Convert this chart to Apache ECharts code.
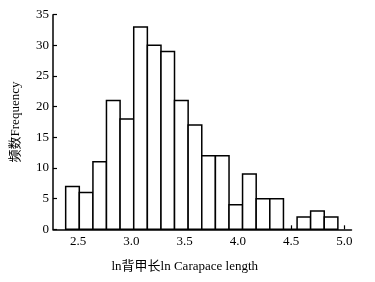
<!DOCTYPE html>
<html>
<head>
<meta charset="utf-8">
<script src="https://cdn.jsdelivr.net/npm/echarts@6/dist/echarts.min.js"></script>
<style>
  html, body { margin: 0; padding: 0; background: #fff; }
  #chart { width: 375px; height: 282px; }
</style>
</head>
<body>
<div id="chart"></div>
<script>
// bin edges (ln carapace length)
const binEdges = [2.384, 2.512, 2.640, 2.767, 2.895, 3.023, 3.151, 3.279, 3.406, 3.534,
  3.662, 3.790, 3.918, 4.045, 4.173, 4.301, 4.429, 4.557, 4.684, 4.812, 4.940];
// frequency per bin
const counts = [7, 6, 11, 21, 18, 33, 30, 29, 21, 17, 12, 12, 4, 9, 5, 5, 0, 2, 3, 2];
const xTicks = [2.5, 3.0, 3.5, 4.0, 4.5, 5.0];

const chart = echarts.init(document.getElementById('chart'));

const fontFamily = '"Liberation Serif", "Times New Roman", "Noto Sans CJK SC", serif';

// [left, right, count] for each bin
const histData = counts.map((c, i) => [binEdges[i], binEdges[i + 1], c]);

const option = {
  backgroundColor: '#fff',
  animation: false,
  grid: { left: 53, right: 23.5, top: 14.7, bottom: 52.7 },
  xAxis: {
    type: 'value',
    min: 2.265,
    max: 5.068,
    name: 'ln背甲长ln Carapace length',
    nameLocation: 'middle',
    nameGap: 31,
    nameTextStyle: { color: '#000', fontSize: 13, fontFamily: fontFamily, padding: [0, 35, 0, 0] },
    splitLine: { show: false },
    axisLine: { lineStyle: { color: '#000', width: 1.5 } },
    axisTick: { inside: true, length: 4, customValues: xTicks, lineStyle: { color: '#000', width: 1.2 } },
    axisLabel: {
      customValues: xTicks,
      color: '#000', fontSize: 13, fontFamily: fontFamily, margin: 6,
      formatter: v => v.toFixed(1)
    }
  },
  yAxis: {
    type: 'value',
    min: 0,
    max: 35,
    interval: 5,
    name: '频数Frequency',
    nameLocation: 'middle',
    nameGap: 31,
    nameTextStyle: { color: '#000', fontSize: 13, fontFamily: fontFamily },
    splitLine: { show: false },
    axisLine: { show: true, lineStyle: { color: '#000', width: 1.5 } },
    axisTick: { inside: true, length: 4, lineStyle: { color: '#000', width: 1.2 } },
    axisLabel: { color: '#000', fontSize: 13, fontFamily: fontFamily, margin: 4 }
  },
  series: [{
    type: 'custom',
    data: histData,
    encode: { x: [0, 1], y: 2 },
    renderItem: function (params, api) {
      const topLeft = api.coord([api.value(0), api.value(2)]);
      const bottomRight = api.coord([api.value(1), 0]);
      return {
        type: 'rect',
        shape: {
          x: topLeft[0],
          y: topLeft[1],
          width: bottomRight[0] - topLeft[0],
          height: bottomRight[1] - topLeft[1]
        },
        style: { fill: '#fff', stroke: '#000', lineWidth: 1.5 }
      };
    }
  }]
};

chart.setOption(option);
</script>
</body>
</html>
